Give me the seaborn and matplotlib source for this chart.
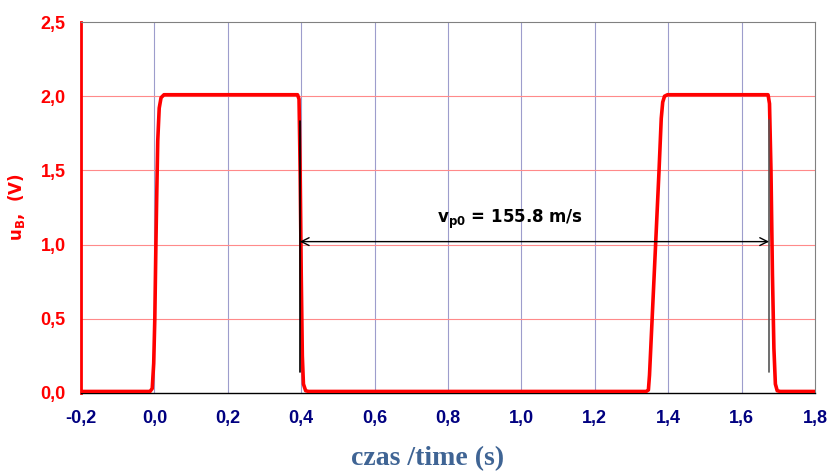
import numpy as np
import pandas as pd
import matplotlib
matplotlib.use("Agg")
import matplotlib.pyplot as plt
import seaborn as sns

# 信号 u_B(t) - 读取自原图的近似点
t_s = [-0.2, -0.012, -0.006, -0.002, 0.001, 0.004, 0.006, 0.009, 0.013, 0.018, 0.026,
       0.390, 0.394, 0.397, 0.400, 0.403, 0.406, 0.412, 0.420,
       1.340, 1.346, 1.349, 1.366, 1.375, 1.381, 1.385, 1.390, 1.398,
       1.672, 1.676, 1.680, 1.684, 1.688, 1.692, 1.697, 1.705, 1.8]
u_v = [0.01, 0.01, 0.03, 0.20, 0.50, 1.00, 1.30, 1.70, 1.92, 1.99, 2.01,
       2.01, 1.98, 1.50, 0.80, 0.25, 0.06, 0.015, 0.01,
       0.01, 0.02, 0.12, 1.02, 1.50, 1.85, 1.96, 2.00, 2.01,
       2.01, 1.95, 1.50, 0.80, 0.30, 0.06, 0.015, 0.01, 0.01]

# 标注: 两个下降沿之间的时间
t_edge1 = 0.396
t_edge2 = 1.675
u_arrow = 1.02
label_text = r"v$_\mathbf{p0}$ = 155.8 m/s"

x_ticks = [-0.2, 0.0, 0.2, 0.4, 0.6, 0.8, 1.0, 1.2, 1.4, 1.6, 1.8]
y_ticks = [0.0, 0.5, 1.0, 1.5, 2.0, 2.5]

df = pd.DataFrame({"t": t_s, "u": u_v})

sns.set_style("white")
plt.rcParams["font.family"] = ["Liberation Sans", "DejaVu Sans"]
plt.rcParams["mathtext.fontset"] = "custom"
plt.rcParams["mathtext.bf"] = "DejaVu Sans:bold"
plt.rcParams["mathtext.rm"] = "DejaVu Sans"

fig = plt.figure(figsize=(8.27, 4.74), dpi=100)
ax = fig.add_axes([0.098, 0.171, 0.8875, 0.7825])

for x in x_ticks[1:-1]:
    ax.axvline(x, color="#9d9dcc", lw=0.8, zorder=0)
for y in y_ticks[1:-1]:
    ax.axhline(y, color="#ff8a8a", lw=0.8, zorder=0)

sns.lineplot(data=df, x="t", y="u", color="#ff0000", lw=2.6, ax=ax, zorder=3,
             estimator=None, sort=False)

ax.plot([t_edge1, t_edge1], [0.14, 1.83], color="black", lw=1.2, zorder=4)
ax.plot([t_edge2, t_edge2], [0.14, 1.84], color="#555555", lw=1.2, zorder=4)
ax.annotate("", xy=(t_edge1, u_arrow), xytext=(t_edge2, u_arrow),
            arrowprops=dict(arrowstyle="<->", color="black", lw=1.0,
                            mutation_scale=14, shrinkA=0, shrinkB=0), zorder=5)
ax.text(0.97, 1.17, label_text, ha="center", va="center", fontsize=12,
        fontweight="bold", family="DejaVu Sans", color="black")

ax.set_xlim(-0.2, 1.8)
ax.set_ylim(0, 2.5)
ax.set_xticks(x_ticks)
ax.set_yticks(y_ticks)
ax.set_xticklabels([f"{v:.1f}".replace(".", ",") for v in x_ticks],
                   color="#000080", fontweight="bold", fontsize=13)
ax.set_yticklabels([f"{v:.1f}".replace(".", ",") for v in y_ticks],
                   color="#ff0000", fontweight="bold", fontsize=13)
ax.tick_params(axis="x", direction="out", length=5, width=1, color="black", pad=7)
ax.tick_params(axis="y", direction="out", length=5, width=1.5, color="#ff0000", pad=6)

ax.spines["left"].set_color("#ff0000")
ax.spines["left"].set_linewidth(2)
ax.spines["bottom"].set_color("black")
ax.spines["bottom"].set_linewidth(1)
ax.spines["top"].set_color("#808080")
ax.spines["right"].set_color("#808080")

ax.set_ylabel(r"u$_\mathbf{B}$,  (V)", color="#ff0000", fontweight="bold",
              fontsize=12, family="DejaVu Sans", labelpad=10)
ax.set_xlabel("")
fig.text(428 / 827, 1 - 459 / 474, "czas /time (s)", color="#3f6494",
         fontweight="bold", fontsize=20, family="Liberation Serif",
         ha="center", va="center")

plt.savefig("out.png", dpi=100)
plt.close()
